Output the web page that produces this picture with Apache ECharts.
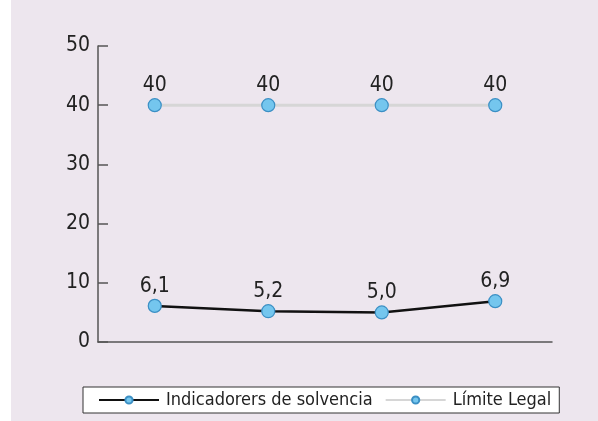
<!DOCTYPE html>
<html>
<head>
<meta charset="utf-8">
<script src="https://cdn.jsdelivr.net/npm/echarts@6/dist/echarts.min.js"></script>
<style>
html,body{margin:0;padding:0;background:#ffffff;}
#chart{width:598px;height:421px;}
</style>
</head>
<body>
<div id="chart"></div>
<script>
var categories = ['1', '2', '3', '4'];
var solvencia = [6.1, 5.2, 5.0, 6.9];
var limiteLegal = [40, 40, 40, 40];
var yTicks = [0, 10, 20, 30, 40, 50];
var seriesNames = ['Indicadorers de solvencia', 'Límite Legal'];

var FONT = '"Liberation Sans Narrow", "DejaVu Sans Condensed", Arial, sans-serif';
var chart = echarts.init(document.getElementById('chart'), null, {renderer: 'canvas'});

var symbolStyle = {color: '#74c6ee', borderColor: '#3b8fc4', borderWidth: 1.2};

chart.setOption({
  animation: false,
  backgroundColor: 'transparent',
  graphic: [{
    type: 'rect', z: -100, silent: true,
    shape: {x: 11, y: 0, width: 587, height: 421},
    style: {fill: '#ede6ee'}
  }],
  grid: {left: 98, right: 46, top: 46, bottom: 79},
  legend: {
    data: seriesNames,
    left: 83, top: 387,
    padding: [4, 8, 4, 15],
    itemGap: 12,
    itemWidth: 60, itemHeight: 9,
    backgroundColor: '#ffffff',
    borderColor: '#333333', borderWidth: 1, borderRadius: 0,
    textStyle: {fontFamily: FONT, fontSize: 18, color: '#222222', padding: [0, 0, 0, 2]}
  },
  xAxis: {
    type: 'category', data: categories, boundaryGap: true,
    axisLine: {lineStyle: {color: '#555555', width: 1.5}},
    axisTick: {inside: true, length: 6, lineStyle: {color: '#555555', width: 1.5}},
    axisLabel: {show: false},
    splitLine: {show: false}
  },
  yAxis: {
    type: 'value', min: yTicks[0], max: yTicks[yTicks.length - 1], interval: 10,
    axisLine: {show: true, lineStyle: {color: '#555555', width: 1.5}},
    axisTick: {show: true, inside: true, length: 10, lineStyle: {color: '#555555', width: 1.5}},
    axisLabel: {fontFamily: FONT, fontSize: 21, color: '#222222', margin: 8},
    splitLine: {show: false}
  },
  series: [{
    name: seriesNames[0], type: 'line', data: solvencia, z: 3,
    symbol: 'circle', symbolSize: 13,
    lineStyle: {color: '#111111', width: 2.5},
    itemStyle: symbolStyle,
    label: {show: true, position: 'top', distance: 2, fontFamily: FONT, fontSize: 21, color: '#222222',
      formatter: function (p) { return p.value.toFixed(1).replace('.', ','); }}
  }, {
    name: seriesNames[1], type: 'line', data: limiteLegal, z: 2,
    symbol: 'circle', symbolSize: 13,
    lineStyle: {color: '#d6d6d6', width: 3},
    itemStyle: symbolStyle,
    label: {show: true, position: 'top', distance: 2, fontFamily: FONT, fontSize: 21, color: '#222222',
      formatter: function (p) { return String(p.value); }}
  }]
});
</script>
</body>
</html>
